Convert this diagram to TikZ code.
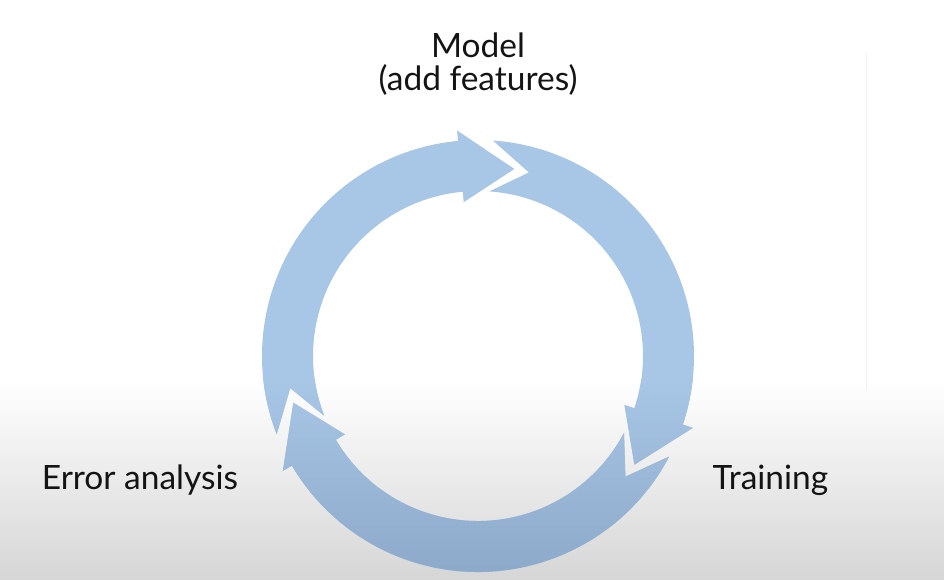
\documentclass[tikz,border=0pt]{standalone}
\usepackage{fontspec}
\setmainfont{Lato}
\definecolor{ringtop}{RGB}{168,198,230}
\definecolor{ringbot}{RGB}{138,166,198}
\definecolor{bgbot}{RGB}{214,214,214}
\definecolor{txt}{RGB}{20,20,20}
\definecolor{faint}{RGB}{242,242,242}
\newcommand\cyclearrow[2]{%
 (#1+7.05:216pt) arc[start angle=#1+7.05, end angle=#2+16.3, radius=216pt]
 -- (#2+16.3:226.5pt) -- (#2:190.5pt) -- (#2+16.3:154.5pt) -- (#2+16.3:165pt)
 arc[start angle=#2+16.3, end angle=#1+7.05, radius=165pt]
 -- (#1-4.5:190.5pt) -- cycle}
\newcommand\ringpath{\cyclearrow{194.2}{79} \cyclearrow{79}{-34.8} \cyclearrow{-34.8}{-165.8}}
\tikzset{lbl/.style={font=\fontsize{33.5}{33.5}\selectfont, text=txt, inner sep=0pt, align=center}}
\begin{document}
\begin{tikzpicture}[x=1pt,y=1pt]
\useasboundingbox (0,0) rectangle (944,580);
\fill[white] (0,0) rectangle (944,580);
\shade[top color=white, bottom color=bgbot] (0,0) rectangle (944,200);
\draw[faint, line width=1pt] (866.5,526) -- (866.5,191);
\begin{scope}[shift={(478,224)}]
  \fill[ringtop] \ringpath;
  \begin{scope}
    \clip \ringpath;
    \shade[top color=ringtop, bottom color=ringbot] (-240,-24) rectangle (240,-240);
  \end{scope}
\end{scope}
\node[lbl, anchor=base] (model) at (478,489) {Model\\(add features)};
\node[lbl, anchor=base] (error) at (140,90) {Error analysis};
\node[lbl, anchor=base] (training) at (770.5,90) {Training};
\end{tikzpicture}
\end{document}
